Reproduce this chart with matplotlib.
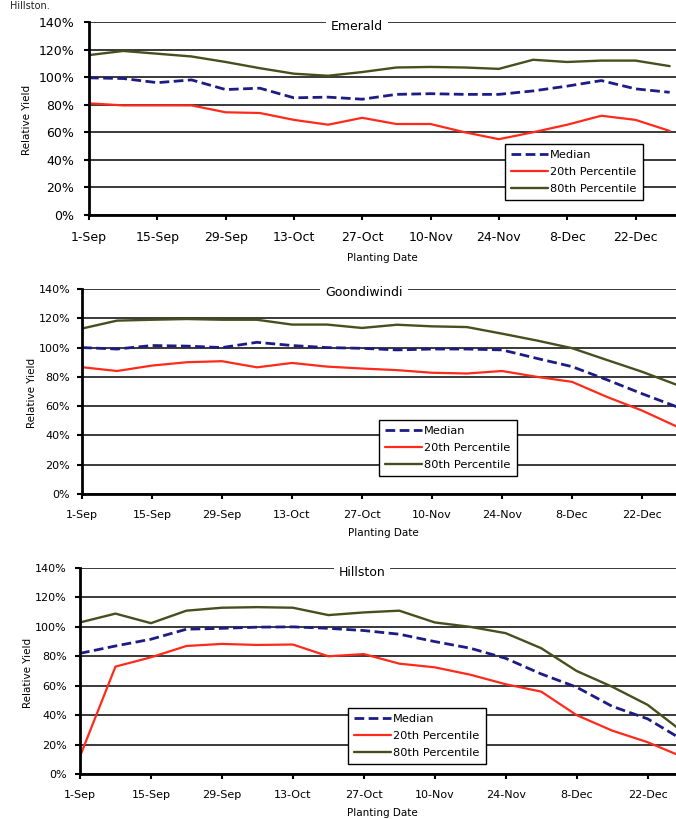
import matplotlib
matplotlib.use("Agg")
import matplotlib.pyplot as plt
from matplotlib.ticker import FixedLocator

W, H = 676, 819

# ---------------- data ----------------
days = [0, 7, 14, 21, 28, 35, 42, 49, 56, 63, 70, 77, 84, 91, 98, 105, 112, 119]
tick_days = [0, 14, 28, 42, 56, 70, 84, 98, 112]
tick_labels = ['1-Sep', '15-Sep', '29-Sep', '13-Oct', '27-Oct', '10-Nov', '24-Nov', '8-Dec', '22-Dec']
y_ticks = [0, 20, 40, 60, 80, 100, 120, 140]
y_tick_labels = ['0%', '20%', '40%', '60%', '80%', '100%', '120%', '140%']
series_names = ['Median', '20th Percentile', '80th Percentile']
sites = ['Emerald', 'Goondiwindi', 'Hillston']

emerald_median = [99.5, 99, 96, 98, 91, 92, 85, 85.5, 84, 87.5, 88, 87.5, 87.5, 90, 93.5, 97.5, 91.5, 89]
emerald_p20 = [81, 79.5, 79.5, 79.5, 74.5, 74, 69, 65.5, 70.5, 66, 66, 60, 55, 60, 65.5, 72, 69, 61]
emerald_p80 = [116, 119, 117, 115, 111, 106.5, 102.5, 101, 103.7, 107, 107.4, 107, 106, 112.6, 111, 112, 112, 108]

goondi_median = [100, 99, 101.4, 101, 100, 103.6, 101.4, 100, 99.5, 98.4, 99, 99, 98.4, 92.6, 87, 78, 68.5, 59.5]
goondi_p20 = [86.6, 84, 87.7, 90, 90.7, 86.5, 89.5, 87, 85.7, 84.6, 82.8, 82.3, 84, 80, 76.6, 66.3, 57, 46]
goondi_p80 = [113, 118.4, 119, 119.5, 119, 119, 115.7, 115.7, 113.4, 115.6, 114.5, 114, 109.5, 104.8, 99.6, 91.5, 83.5, 74.5]

hill_median = [82, 87, 91.6, 98.4, 99, 99.8, 100, 99, 97.5, 95, 90, 85.5, 78.6, 68, 59, 46, 37.5, 23]
hill_p20 = [12, 73, 79.3, 87, 88.4, 87.7, 88, 80, 81.5, 75, 72.5, 67.5, 61, 56, 40, 29.5, 21.6, 11.5]
hill_p80 = [103, 109, 102.5, 111, 113, 113.4, 113, 108, 109.8, 111, 103, 100, 95.7, 85.5, 70, 59.3, 47, 28.5]

site_data = [
    (emerald_median, emerald_p20, emerald_p80),
    (goondi_median, goondi_p20, goondi_p80),
    (hill_median, hill_p20, hill_p80),
]

# ---------------- layout (pixels) ----------------
panels = [
    dict(left=89, top=22, bottom=215, xmax=120.3, fs=9, ypad=7, xpad=8,
         title_xy=(357, 27), ylab_xy=(27, 120), xlab_xy=(382, 258),
         leg=(505, 144)),
    dict(left=82, top=289, bottom=494, xmax=118.8, fs=8, ypad=5, xpad=8,
         title_xy=(364, 293), ylab_xy=(32, 393), xlab_xy=(383, 533),
         leg=(379, 420)),
    dict(left=80, top=568, bottom=774, xmax=117.6, fs=8, ypad=6, xpad=8,
         title_xy=(362, 573), ylab_xy=(28, 673), xlab_xy=(382, 813),
         leg=(348, 708)),
]

colors = ['#1c1c84', '#ff2a1a', '#45501e']
styles = [dict(ls=(0, (3.5, 1.6)), lw=2.0), dict(ls='-', lw=1.6), dict(ls='-', lw=1.7)]

fig = plt.figure(figsize=(W / 100, H / 100), dpi=100)
fig.patch.set_facecolor('white')

def fx(x):
    return x / W

def fy(y):
    return 1 - y / H

# caption from the page above (cut at the top of the reference)
fig.text(fx(10), fy(1), 'Hillston.', fontsize=7, va='top', ha='left', color='#222222')

for p, site, data in zip(panels, sites, site_data):
    ax = fig.add_axes([fx(p['left']), fy(p['bottom']), fx(W - p['left']),
                       (p['bottom'] - p['top']) / H])
    ax.set_xlim(0, p['xmax'])
    ax.set_ylim(0, 140)
    for vals, c, st, name in zip(data, colors, styles, series_names):
        ax.plot(days, vals, color=c, label=name, solid_capstyle='round',
                solid_joinstyle='round', dash_capstyle='butt', **st)
    ax.xaxis.set_major_locator(FixedLocator(tick_days))
    ax.set_xticklabels(tick_labels)
    ax.yaxis.set_major_locator(FixedLocator(y_ticks))
    ax.set_yticklabels(y_tick_labels)
    ax.yaxis.grid(True, color='#2a2a2a', lw=1.3)
    ax.set_axisbelow(True)
    for s in ['top', 'right']:
        ax.spines[s].set_visible(False)
    for s in ['left', 'bottom']:
        ax.spines[s].set_linewidth(2.0)
        ax.spines[s].set_color('black')
    ax.tick_params(axis='y', direction='out', length=3.5, width=1.5, pad=p['ypad'],
                   labelsize=p['fs'])
    ax.tick_params(axis='x', direction='out', length=3.5, width=1.5, pad=p['xpad'],
                   labelsize=p['fs'])

    fig.text(fx(p['title_xy'][0]), fy(p['title_xy'][1]), site, ha='center', va='center',
             fontsize=9, bbox=dict(fc='white', ec='none', pad=3.5), zorder=10)
    fig.text(fx(p['ylab_xy'][0]), fy(p['ylab_xy'][1]), 'Relative Yield', rotation=90,
             ha='center', va='center', fontsize=7.5)
    fig.text(fx(p['xlab_xy'][0]), fy(p['xlab_xy'][1]), 'Planting Date',
             ha='center', va='center', fontsize=7.5)

    leg = ax.legend(loc='upper left', bbox_to_anchor=(fx(p['leg'][0]), fy(p['leg'][1])),
                    bbox_transform=fig.transFigure, borderaxespad=0, fontsize=8.2,
                    fancybox=False, framealpha=1, edgecolor='black',
                    handlelength=3.2, handletextpad=0.2, labelspacing=0.6,
                    borderpad=0.55)
    leg.get_frame().set_linewidth(1.0)

fig.savefig('out.png', dpi=100, facecolor='white')
